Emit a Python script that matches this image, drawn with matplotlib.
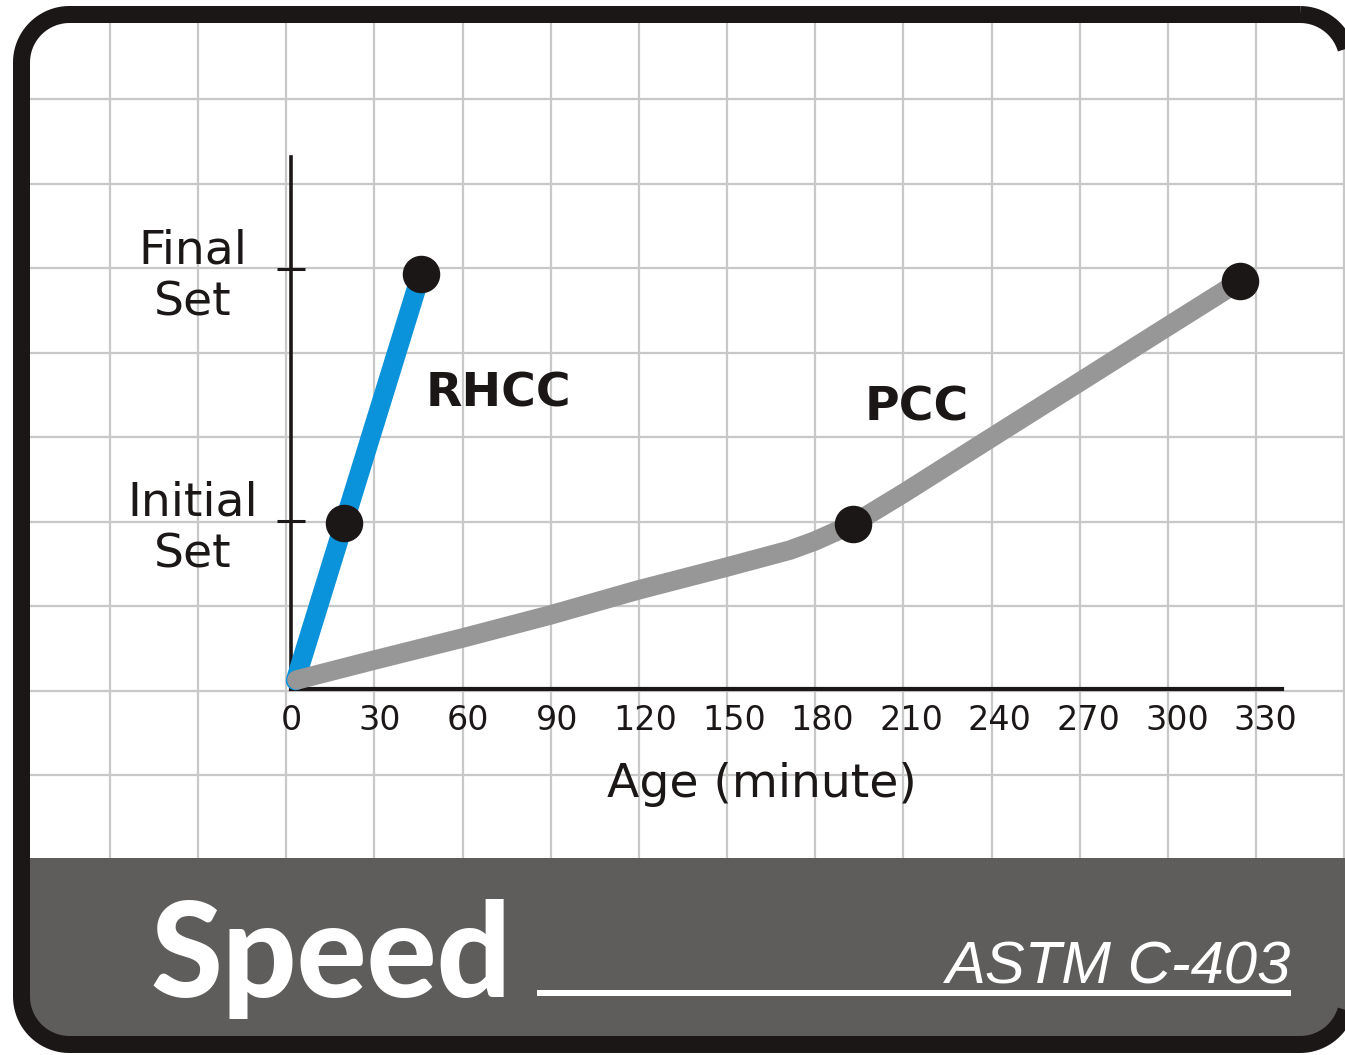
import numpy as np
import matplotlib
matplotlib.use("Agg")
import matplotlib.pyplot as plt
from matplotlib.patches import Polygon, Rectangle

# ---------------- data ----------------
x_ticks = [0, 30, 60, 90, 120, 150, 180, 210, 240, 270, 300, 330]
y_tick_pos = [1.0, 2.5]
y_tick_labels = ["Initial\nSet", "Final\nSet"]

rhcc_time = [1.5, 18, 44]
rhcc_level = [0.05, 0.99, 2.47]
rhcc_mark_time = [18, 44]
rhcc_mark_level = [0.99, 2.47]

pcc_time = [2.0, 28.4, 58.2, 87.7, 117.5, 147.6, 169.0, 177.4, 190.3,
            207.6, 237.0, 266.5, 296.6, 321.4]
pcc_level = [0.054, 0.173, 0.304, 0.440, 0.589, 0.726, 0.827, 0.881, 0.982,
             1.167, 1.494, 1.821, 2.155, 2.429]
pcc_mark_time = [190.3, 321.4]
pcc_mark_level = [0.982, 2.429]

x_label = "Age (minute)"
title = "Speed"
standard = "ASTM C-403"

# ---------------- figure ----------------
W, H = 1345, 1055
DPI = 100
fig = plt.figure(figsize=(W / DPI, H / DPI), dpi=DPI, facecolor="white")

bg = fig.add_axes([0, 0, 1, 1], zorder=0)
bg.set_xlim(0, W)
bg.set_ylim(H, 0)
bg.axis("off")

FRAME = "#1b1716"
GRID = "#c8c8c8"
BAND = "#5e5d5c"
INK = "#1b1716"


def rounded_rect(x0, y0, x1, y1, r, n=24):
    pts = []
    for cx, cy, a0 in [(x1 - r, y0 + r, -90), (x1 - r, y1 - r, 0),
                       (x0 + r, y1 - r, 90), (x0 + r, y0 + r, 180)]:
        t = np.radians(np.linspace(a0, a0 + 90, n))
        pts.extend(zip(cx + r * np.cos(t), cy + r * np.sin(t)))
    return np.array(pts)


outline = rounded_rect(21.5, 14.5, 1348, 1044.5, 48)

inner = Polygon(outline, closed=True, facecolor="white", edgecolor="none",
                zorder=0, clip_on=False)
bg.add_patch(inner)

gx = [110 + 88.15 * k for k in range(-1, 15)]
gy = [99 + 84.5 * k for k in range(-1, 10)]
for x in gx:
    ln, = bg.plot([x, x], [0, H], color=GRID, lw=1.6, zorder=1)
    ln.set_clip_path(inner)
for y in gy:
    ln, = bg.plot([0, W], [y, y], color=GRID, lw=1.6, zorder=1)
    ln.set_clip_path(inner)

band = Rectangle((0, 858), W, H - 858, facecolor=BAND, edgecolor="none", zorder=2)
bg.add_patch(band)
band.set_clip_path(inner)

frame = Polygon(outline, closed=True, facecolor="none", edgecolor=FRAME,
                lw=17 * 0.72, joinstyle="round", zorder=3, clip_on=False)
bg.add_patch(frame)

bg.text(150, 997, title, color="white", fontsize=94, fontfamily="Lato",
        fontweight="black", ha="left", va="baseline", zorder=4)
bg.plot([537, 1291], [993, 993], color="white", lw=6 * 0.72,
        solid_capstyle="butt", zorder=4)
bg.text(1291, 983, standard, color="white", fontsize=43,
        fontfamily="Liberation Sans", fontstyle="italic",
        ha="right", va="baseline", zorder=4)

bg.text(498, 394, "RHCC", fontsize=34, fontweight="bold", color=INK,
        ha="center", va="center", zorder=4)
bg.text(917, 408, "PCC", fontsize=34, fontweight="bold", color=INK,
        ha="center", va="center", zorder=4)

# ---------------- main chart ----------------
x0, x1 = 291, 1282
y0, y1 = 689, 157
ax = fig.add_axes([x0 / W, (H - y0) / H, (x1 - x0) / W, (y0 - y1) / H], zorder=5)
ax.set_facecolor("none")
ax.set_xlim(0, (x1 - x0) / 2.953)
ax.set_ylim(0, (y0 - y1) / 168)

for s in ["top", "right"]:
    ax.spines[s].set_visible(False)
ax.spines["left"].set_linewidth(2.6)
ax.spines["bottom"].set_linewidth(3.0)
ax.spines["left"].set_color(FRAME)
ax.spines["bottom"].set_color(FRAME)

ax.plot(rhcc_time, rhcc_level, color="#0a92db", lw=14,
        solid_capstyle="round", solid_joinstyle="round", clip_on=False, zorder=3)
ax.plot(pcc_time, pcc_level, color="#979797", lw=14,
        solid_capstyle="round", solid_joinstyle="round", clip_on=False, zorder=4)
ax.plot(rhcc_mark_time, rhcc_mark_level, "o", color=FRAME, ms=26,
        clip_on=False, zorder=5)
ax.plot(pcc_mark_time, pcc_mark_level, "o", color=FRAME, ms=26,
        clip_on=False, zorder=5)

ax.set_xticks(x_ticks)
ax.set_xticklabels([str(v) for v in x_ticks])
ax.tick_params(axis="x", length=0, pad=11, labelsize=24, labelcolor=INK)

ax.set_yticks(y_tick_pos, labels=y_tick_labels, ha="center",
              multialignment="center")
ax.tick_params(axis="y", direction="inout", length=20, width=2.2,
               color=FRAME, pad=60.5, labelsize=34, labelcolor=INK)

ax.set_xlabel(x_label, fontsize=34, color=INK)
ax.xaxis.set_label_coords((762 - x0) / (x1 - x0), -(762 - y0) / (y0 - y1))

fig.savefig("out.png", dpi=DPI, facecolor="white")
